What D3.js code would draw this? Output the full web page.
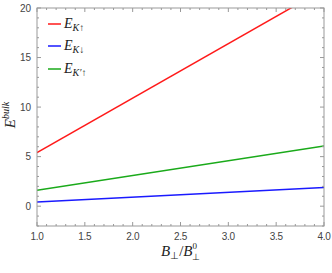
<!DOCTYPE html>
<html><head><meta charset="utf-8">
<script src="https://cdn.jsdelivr.net/npm/d3@7"></script>
<style>body{margin:0;background:#fff}svg{display:block}</style>
</head><body><svg id="c" width="332" height="273"></svg>
<script>
const xValues = [1.0, 4.0];
const eKup = [5.4, 21.9];
const eKdown = [0.43, 1.88];
const eKpUp = [1.6, 6.07];
const seriesNames = ["K\u2191", "K\u2193", "K\u2032\u2191"];
const seriesColors = ["#ff1a1a", "#1a1aff", "#1aaa1a"];
const xTicks = [1.0, 1.5, 2.0, 2.5, 3.0, 3.5, 4.0];
const yTicks = [0, 5, 10, 15, 20];

const svg = d3.select("#c");
const L = 37, R = 324, T = 8, B = 226;
const x = d3.scaleLinear().domain([1, 4]).range([L, R]);
const y = d3.scaleLinear().domain([-2, 20]).range([B, T]);

const defs = svg.append("defs");
defs.append("clipPath").attr("id","clip").append("rect")
  .attr("x", L).attr("y", T).attr("width", R-L).attr("height", B-T);

const series = [eKup, eKdown, eKpUp];
const line = d3.line().x((d,i)=>x(xValues[i])).y(d=>y(d));
series.forEach((s,k)=>{
  svg.append("path").datum(s).attr("d", line).attr("clip-path","url(#clip)")
    .attr("fill","none").attr("stroke", seriesColors[k]).attr("stroke-width",1.5);
});

const tc = "#999", lc = "#444";
const g = svg.append("g");
g.append("rect").attr("x",L).attr("y",T).attr("width",R-L).attr("height",B-T)
  .attr("fill","none").attr("stroke",tc).attr("stroke-width",1);
const xMinor = d3.range(1.0, 4.0001, 0.1);
xMinor.forEach(v=>{
  const major = xTicks.some(t=>Math.abs(t-v)<1e-6);
  const len = major ? 4 : 2;
  g.append("line").attr("x1",x(v)).attr("x2",x(v)).attr("y1",B).attr("y2",B-len).attr("stroke",tc);
  g.append("line").attr("x1",x(v)).attr("x2",x(v)).attr("y1",T).attr("y2",T+len).attr("stroke",tc);
});
xTicks.forEach(v=>{
  g.append("text").attr("x",x(v)).attr("y",B+14).attr("text-anchor","middle")
    .attr("font-family","Liberation Sans, Arial, sans-serif").attr("font-size",10).attr("fill",lc)
    .attr("letter-spacing",-0.3)
    .text(d3.format(".1f")(v));
});
d3.range(-2, 20.001, 1).forEach(v=>{
  const major = yTicks.includes(v);
  const len = major ? 4 : 2;
  g.append("line").attr("x1",L).attr("x2",L+len).attr("y1",y(v)).attr("y2",y(v)).attr("stroke",tc);
  g.append("line").attr("x1",R).attr("x2",R-len).attr("y1",y(v)).attr("y2",y(v)).attr("stroke",tc);
});
yTicks.forEach(v=>{
  g.append("text").attr("x",L-6).attr("y",y(v)+3.5).attr("text-anchor","end")
    .attr("font-family","Liberation Sans, Arial, sans-serif").attr("font-size",10).attr("fill",lc)
    .text(v);
});

const legY = [24, 46, 69];
seriesNames.forEach((n,k)=>{
  svg.append("line").attr("x1",48).attr("x2",61).attr("y1",legY[k]).attr("y2",legY[k])
    .attr("stroke",seriesColors[k]).attr("stroke-width",1.5);
  const t = svg.append("text").attr("x",64).attr("y",legY[k]+4)
    .attr("font-family","Liberation Serif, Times New Roman, serif").attr("font-size",14).attr("fill","#222");
  t.append("tspan").attr("font-style","italic").text("E");
  t.append("tspan").attr("font-size",10).attr("dy",3).attr("font-style","italic").text(n);
});

const xl = svg.append("text").attr("x",(L+R)/2).attr("y",256).attr("text-anchor","middle")
  .attr("font-family","Liberation Serif, Times New Roman, serif").attr("font-size",15).attr("fill","#222");
xl.append("tspan").attr("font-style","italic").text("B");
xl.append("tspan").attr("font-size",10).attr("dy",3).text("\u22A5");
xl.append("tspan").attr("dy",-3).text("/");
xl.append("tspan").attr("font-style","italic").text("B");
xl.append("tspan").attr("font-size",9).attr("dy",-7).text("0");
xl.append("tspan").attr("font-size",9).attr("dx",-5).attr("dy",11).text("\u22A5");

const yl = svg.append("text").attr("transform","translate(15,115) rotate(-90)").attr("text-anchor","middle")
  .attr("font-family","Liberation Serif, Times New Roman, serif").attr("font-size",15).attr("fill","#222");
yl.append("tspan").attr("font-style","italic").text("E");
yl.append("tspan").attr("font-style","italic").attr("font-size",10).attr("dy",-6).text("bulk");
</script></body></html>
